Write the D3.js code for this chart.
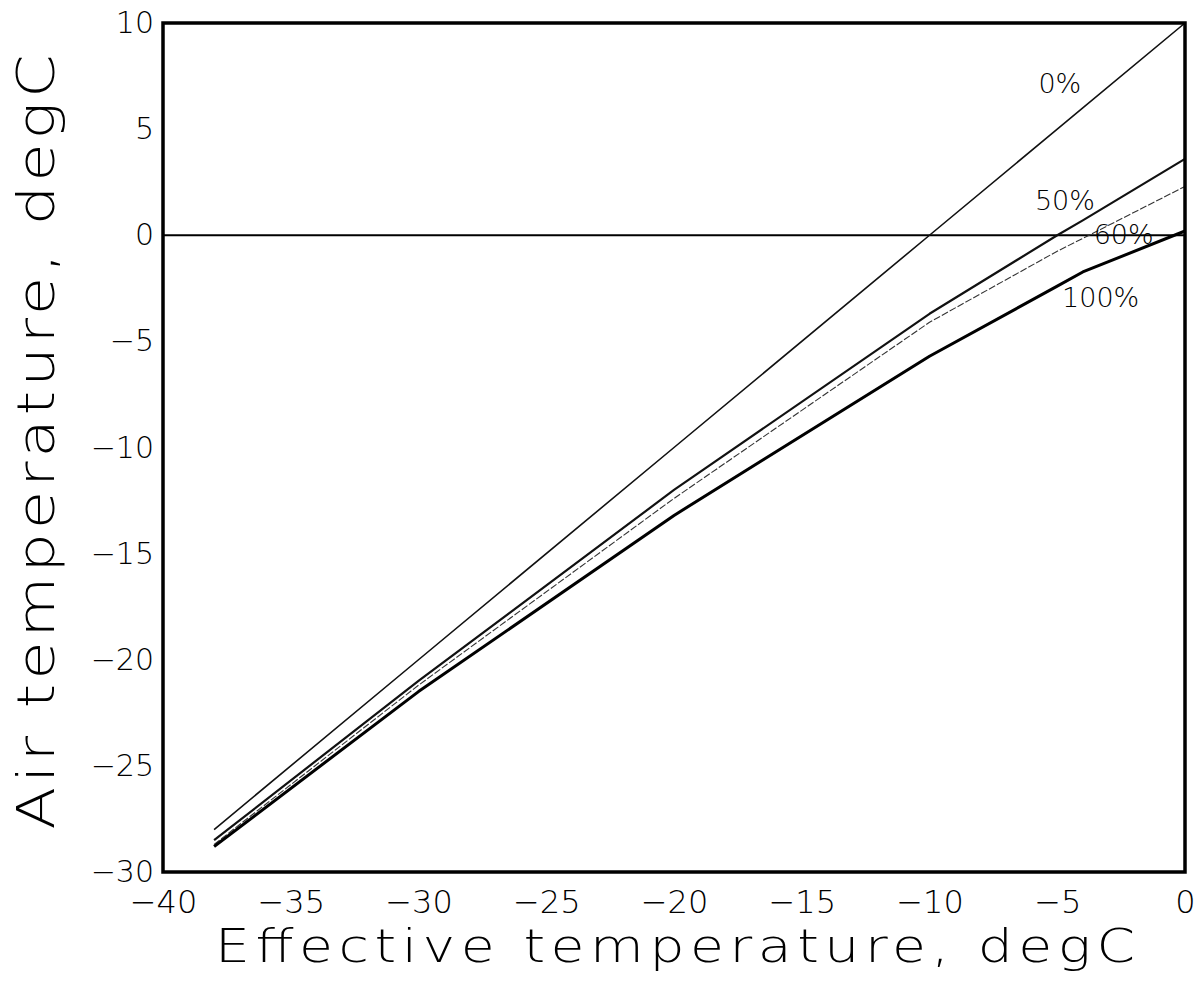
<!DOCTYPE html>
<html>
<head>
<meta charset="utf-8">
<script src="https://cdn.jsdelivr.net/npm/d3@7/dist/d3.min.js"></script>
<style>
  html, body { margin: 0; padding: 0; background: #fff; }
  svg text { font-family: "DejaVu Sans", "Liberation Sans", sans-serif; font-weight: 200; fill: #000; }
</style>
</head>
<body>
<svg id="chart" width="1199" height="986"></svg>
<script>
// Effective temperature (x) against air temperature (y) for several humidity levels
const effTemp = [-38, -30, -20, -10, -5, -4, 0];
const rh0   = [-28.0, -20.0, -10.0, 0.0, 5.0, 6.0, 10.0];
const rh50  = [-28.5, -21.0, -12.0, -3.7, 0.0, 0.7, 3.6];
const rh60  = [-28.7, -21.2, -12.4, -4.1, -0.75, -0.15, 2.3];
const rh100 = [-28.8, -21.5, -13.2, -5.7, -2.4, -1.73, 0.2];

const seriesNames = ["0%", "50%", "60%", "100%"];
const seriesValues = [rh0, rh50, rh60, rh100];
const labelX = [-4.9, -4.7, -2.4, -3.3];
const labelY = [6.7, 1.2, -0.42, -3.4];

const xTicks = [-40, -35, -30, -25, -20, -15, -10, -5, 0];
const yTicks = [10, 5, 0, -5, -10, -15, -20, -25, -30];

const strokeW = [1.6, 2.2, 1.1, 3.0];
const strokeC = ["#111", "#111", "#333", "#000"];

const svg = d3.select("#chart");
const plotL = 163, plotR = 1185, plotT = 23, plotB = 872;

const x = d3.scaleLinear().domain([-40, 0]).range([plotL, plotR]);
const y = d3.scaleLinear().domain([-30, 10]).range([plotB, plotT]);

const fmt = d => d < 0 ? "\u2212" + Math.abs(d) : String(d);

// axes: labels only, no tick marks
const xAxis = svg.append("g")
  .attr("transform", `translate(0,${plotB})`)
  .call(d3.axisBottom(x).tickValues(xTicks).tickSize(0).tickPadding(18).tickFormat(fmt));
xAxis.select(".domain").remove();
xAxis.attr("font-family", null).attr("font-size", null);
xAxis.selectAll("text").style("font-size", "32px").attr("fill", "#000");

const yAxis = svg.append("g")
  .attr("transform", `translate(${plotL},0)`)
  .call(d3.axisLeft(y).tickValues(yTicks).tickSize(0).tickPadding(9).tickFormat(fmt));
yAxis.select(".domain").remove();
yAxis.attr("font-family", null).attr("font-size", null);
yAxis.selectAll("text").style("font-size", "30px").attr("fill", "#000");

// zero reference line
svg.append("line")
  .attr("x1", x(-40)).attr("x2", x(0))
  .attr("y1", y(0)).attr("y2", y(0))
  .attr("stroke", "#000").attr("stroke-width", 2);

const line = d3.line()
  .x((d, i) => x(effTemp[i]))
  .y(d => y(d));

seriesValues.forEach((vals, k) => {
  svg.append("path")
    .datum(vals)
    .attr("d", line)
    .attr("fill", "none")
    .attr("stroke", strokeC[k])
    .attr("stroke-width", strokeW[k])
    .attr("stroke-dasharray", k === 2 ? "7,2" : null)
    .attr("stroke-linejoin", "round");
});

// series labels
seriesNames.forEach((name, k) => {
  svg.append("text")
    .attr("x", x(labelX[k]))
    .attr("y", y(labelY[k]))
    .attr("text-anchor", "middle")
    .style("font-size", "27px")
    .text(name);
});

// plot frame
svg.append("rect")
  .attr("x", plotL).attr("y", plotT)
  .attr("width", plotR - plotL).attr("height", plotB - plotT)
  .attr("fill", "none").attr("stroke", "#000").attr("stroke-width", 3.5);

// axis titles: glyphs widened a little, remaining width taken up by spacing
const widen = 1.2;
svg.append("text")
  .attr("transform", `translate(675,962) scale(${widen},1)`)
  .attr("text-anchor", "middle")
  .attr("textLength", 920 / widen).attr("lengthAdjust", "spacing")
  .style("font-size", "46px")
  .text("Effective temperature, degC");

svg.append("text")
  .attr("transform", `translate(54,442) rotate(-90) scale(${widen},1)`)
  .attr("text-anchor", "middle")
  .attr("textLength", 775 / widen).attr("lengthAdjust", "spacing")
  .style("font-size", "52px")
  .text("Air temperature, degC");
</script>
</body>
</html>
